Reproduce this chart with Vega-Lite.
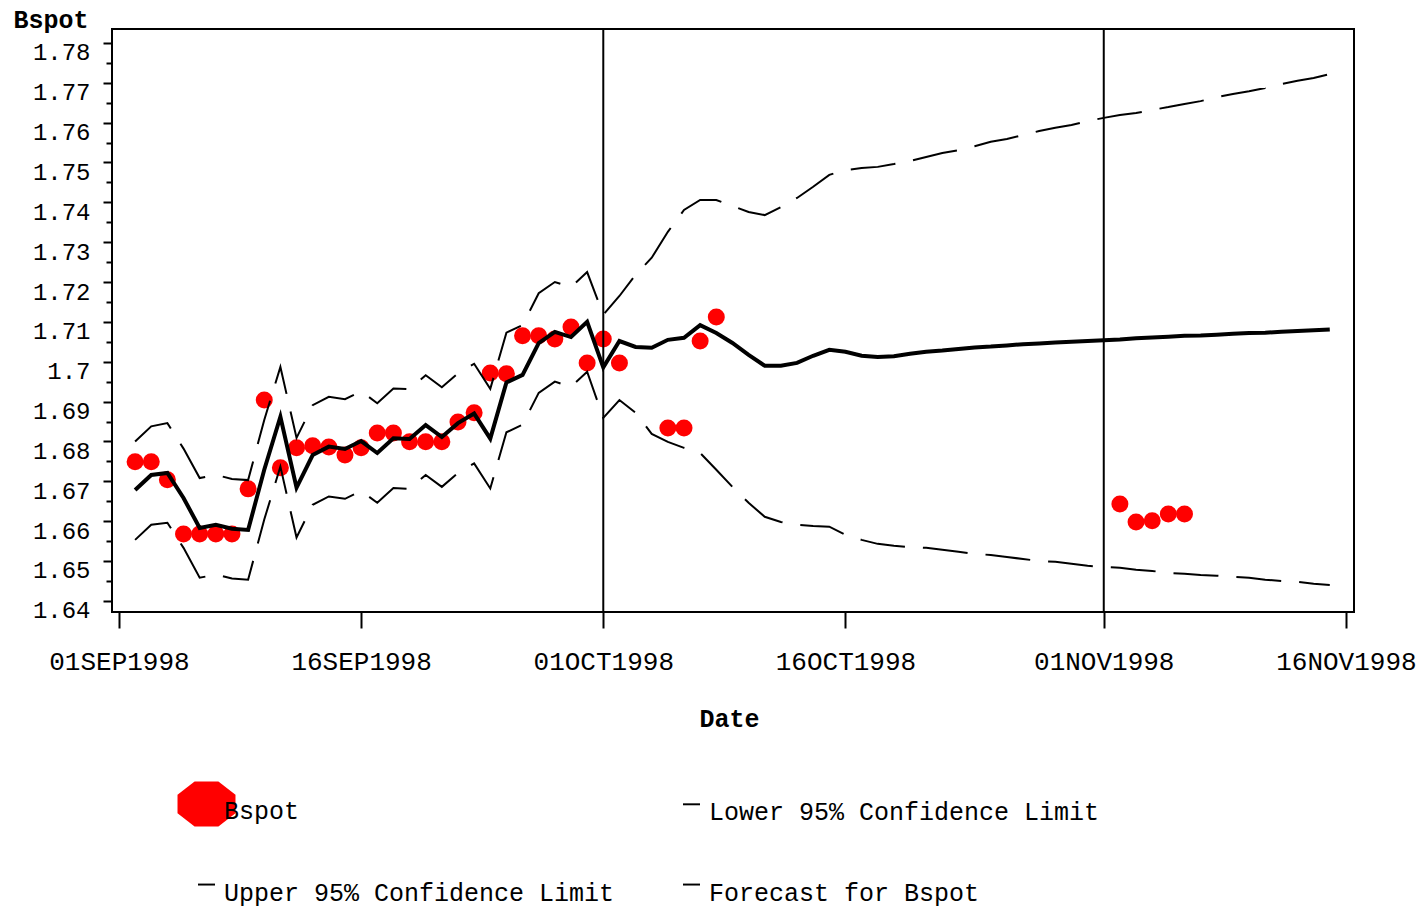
{
  "$schema": "https://vega.github.io/schema/vega-lite/v6.json",
  "width": 1242,
  "height": 583,
  "autosize": "none",
  "padding": {"left": 112, "top": 29, "right": 73, "bottom": 298},
  "background": "white",
  "config": {
    "font": "Liberation Mono",
    "view": {"stroke": "#000000", "strokeWidth": 2}
  },
  "resolve": {"axis": {"y": "independent"}},
  "data": {
    "values": [
      {"date": "1998-09-02", "bspot": 1.6749, "forecast": 1.6678, "l95": 1.6553, "u95": 1.6800},
      {"date": "1998-09-03", "bspot": 1.6749, "forecast": 1.6716, "l95": 1.6591, "u95": 1.6838},
      {"date": "1998-09-04", "bspot": 1.6704, "forecast": 1.6721, "l95": 1.6596, "u95": 1.6846},
      {"date": "1998-09-05", "bspot": 1.6568, "forecast": 1.6658, "l95": 1.6533, "u95": 1.6782},
      {"date": "1998-09-06", "bspot": 1.6568, "forecast": 1.6583, "l95": 1.6458, "u95": 1.6708},
      {"date": "1998-09-07", "bspot": 1.6568, "forecast": 1.6591, "l95": 1.6466, "u95": 1.6716},
      {"date": "1998-09-08", "bspot": 1.6568, "forecast": 1.6581, "l95": 1.6456, "u95": 1.6706},
      {"date": "1998-09-09", "bspot": 1.6681, "forecast": 1.6578, "l95": 1.6453, "u95": 1.6703},
      {"date": "1998-09-10", "bspot": 1.6904, "forecast": 1.6729, "l95": 1.6604, "u95": 1.6854},
      {"date": "1998-09-11", "bspot": 1.6734, "forecast": 1.6862, "l95": 1.6737, "u95": 1.6987},
      {"date": "1998-09-12", "bspot": 1.6784, "forecast": 1.6684, "l95": 1.6559, "u95": 1.6809},
      {"date": "1998-09-13", "bspot": 1.6789, "forecast": 1.6766, "l95": 1.6641, "u95": 1.6891},
      {"date": "1998-09-14", "bspot": 1.6786, "forecast": 1.6787, "l95": 1.6662, "u95": 1.6912},
      {"date": "1998-09-15", "bspot": 1.6766, "forecast": 1.6781, "l95": 1.6656, "u95": 1.6906},
      {"date": "1998-09-16", "bspot": 1.6784, "forecast": 1.6801, "l95": 1.6676, "u95": 1.6926},
      {"date": "1998-09-17", "bspot": 1.6821, "forecast": 1.6771, "l95": 1.6646, "u95": 1.6896},
      {"date": "1998-09-18", "bspot": 1.6821, "forecast": 1.6808, "l95": 1.6683, "u95": 1.6933},
      {"date": "1998-09-19", "bspot": 1.6799, "forecast": 1.6806, "l95": 1.6681, "u95": 1.6931},
      {"date": "1998-09-20", "bspot": 1.6799, "forecast": 1.6841, "l95": 1.6716, "u95": 1.6966},
      {"date": "1998-09-21", "bspot": 1.6799, "forecast": 1.6811, "l95": 1.6686, "u95": 1.6936},
      {"date": "1998-09-22", "bspot": 1.6849, "forecast": 1.6846, "l95": 1.6721, "u95": 1.6971},
      {"date": "1998-09-23", "bspot": 1.6872, "forecast": 1.6870, "l95": 1.6745, "u95": 1.6995},
      {"date": "1998-09-24", "bspot": 1.6972, "forecast": 1.6807, "l95": 1.6682, "u95": 1.6932},
      {"date": "1998-09-25", "bspot": 1.6970, "forecast": 1.6948, "l95": 1.6823, "u95": 1.7073},
      {"date": "1998-09-26", "bspot": 1.7065, "forecast": 1.6967, "l95": 1.6842, "u95": 1.7092},
      {"date": "1998-09-27", "bspot": 1.7065, "forecast": 1.7047, "l95": 1.6922, "u95": 1.7172},
      {"date": "1998-09-28", "bspot": 1.7057, "forecast": 1.7075, "l95": 1.6950, "u95": 1.7200},
      {"date": "1998-09-29", "bspot": 1.7087, "forecast": 1.7062, "l95": 1.6937, "u95": 1.7187},
      {"date": "1998-09-30", "bspot": 1.6997, "forecast": 1.7100, "l95": 1.6975, "u95": 1.7225},
      {"date": "1998-10-01", "bspot": 1.7057, "forecast": 1.6986, "l95": 1.6859, "u95": 1.7118},
      {"date": "1998-10-02", "bspot": 1.6997, "forecast": 1.7052, "l95": 1.6904, "u95": 1.7165},
      {"date": "1998-10-03", "forecast": 1.7037, "l95": 1.6872, "u95": 1.7218},
      {"date": "1998-10-04", "forecast": 1.7035, "l95": 1.6819, "u95": 1.7261},
      {"date": "1998-10-05", "bspot": 1.6834, "forecast": 1.7055, "l95": 1.6799, "u95": 1.7326},
      {"date": "1998-10-06", "bspot": 1.6834, "forecast": 1.7060, "l95": 1.6784, "u95": 1.7381},
      {"date": "1998-10-07", "bspot": 1.7052, "forecast": 1.7092, "l95": 1.6771, "u95": 1.7406},
      {"date": "1998-10-08", "bspot": 1.7112, "forecast": 1.7072, "l95": 1.6729, "u95": 1.7406},
      {"date": "1998-10-09", "forecast": 1.7047, "l95": 1.6686, "u95": 1.7391},
      {"date": "1998-10-10", "forecast": 1.7017, "l95": 1.6646, "u95": 1.7376},
      {"date": "1998-10-11", "forecast": 1.6990, "l95": 1.6611, "u95": 1.7368},
      {"date": "1998-10-12", "forecast": 1.6990, "l95": 1.6598, "u95": 1.7388},
      {"date": "1998-10-13", "forecast": 1.6997, "l95": 1.6591, "u95": 1.7411},
      {"date": "1998-10-14", "forecast": 1.7015, "l95": 1.6588, "u95": 1.7439},
      {"date": "1998-10-15", "forecast": 1.7030, "l95": 1.6586, "u95": 1.7469},
      {"date": "1998-10-16", "forecast": 1.7025, "l95": 1.6566, "u95": 1.7481},
      {"date": "1998-10-17", "forecast": 1.7015, "l95": 1.6553, "u95": 1.7486},
      {"date": "1998-10-18", "forecast": 1.7012, "l95": 1.6543, "u95": 1.7489},
      {"date": "1998-10-19", "forecast": 1.7014, "l95": 1.6538, "u95": 1.7496},
      {"date": "1998-10-20", "forecast": 1.7020, "l95": 1.6535, "u95": 1.7504},
      {"date": "1998-10-21", "forecast": 1.7025, "l95": 1.6533, "u95": 1.7514},
      {"date": "1998-10-22", "forecast": 1.7028, "l95": 1.6528, "u95": 1.7524},
      {"date": "1998-10-23", "forecast": 1.7032, "l95": 1.6523, "u95": 1.7531},
      {"date": "1998-10-24", "forecast": 1.7036, "l95": 1.6518, "u95": 1.7541},
      {"date": "1998-10-25", "forecast": 1.7038, "l95": 1.6515, "u95": 1.7552},
      {"date": "1998-10-26", "forecast": 1.7041, "l95": 1.6510, "u95": 1.7559},
      {"date": "1998-10-27", "forecast": 1.7044, "l95": 1.6505, "u95": 1.7569},
      {"date": "1998-10-28", "forecast": 1.7046, "l95": 1.6500, "u95": 1.7579},
      {"date": "1998-10-29", "forecast": 1.7048, "l95": 1.6498, "u95": 1.7587},
      {"date": "1998-10-30", "forecast": 1.7050, "l95": 1.6493, "u95": 1.7594},
      {"date": "1998-10-31", "forecast": 1.7052, "l95": 1.6488, "u95": 1.7604},
      {"date": "1998-11-01", "forecast": 1.7054, "l95": 1.6485, "u95": 1.7612},
      {"date": "1998-11-02", "bspot": 1.6643, "forecast": 1.7056, "l95": 1.6483, "u95": 1.7619},
      {"date": "1998-11-03", "bspot": 1.6598, "forecast": 1.7059, "l95": 1.6478, "u95": 1.7624},
      {"date": "1998-11-04", "bspot": 1.6601, "forecast": 1.7061, "l95": 1.6475, "u95": 1.7632},
      {"date": "1998-11-05", "bspot": 1.6618, "forecast": 1.7063, "l95": 1.6470, "u95": 1.7639},
      {"date": "1998-11-06", "bspot": 1.6618, "forecast": 1.7065, "l95": 1.6468, "u95": 1.7647},
      {"date": "1998-11-07", "forecast": 1.7066, "l95": 1.6465, "u95": 1.7654},
      {"date": "1998-11-08", "forecast": 1.7068, "l95": 1.6463, "u95": 1.7664},
      {"date": "1998-11-09", "forecast": 1.7070, "l95": 1.6460, "u95": 1.7672},
      {"date": "1998-11-10", "forecast": 1.7072, "l95": 1.6458, "u95": 1.7679},
      {"date": "1998-11-11", "forecast": 1.7073, "l95": 1.6453, "u95": 1.7687},
      {"date": "1998-11-12", "forecast": 1.7075, "l95": 1.6450, "u95": 1.7697},
      {"date": "1998-11-13", "forecast": 1.7077, "l95": 1.6448, "u95": 1.7705},
      {"date": "1998-11-14", "forecast": 1.7079, "l95": 1.6443, "u95": 1.7712},
      {"date": "1998-11-15", "forecast": 1.7081, "l95": 1.6440, "u95": 1.7722}
    ]
  },
  "encoding": {
    "x": {
      "field": "date",
      "type": "temporal",
      "scale": {
        "type": "utc",
        "domain": [
          {"year": 1998, "month": 8, "date": 31, "hours": 13, "minutes": 40, "utc": true},
          {"year": 1998, "month": 11, "date": 16, "hours": 12, "utc": true}
        ]
      },
      "axis": {
        "values": [
          {"year": 1998, "month": 9, "date": 1, "utc": true},
          {"year": 1998, "month": 9, "date": 16, "utc": true},
          {"year": 1998, "month": 10, "date": 1, "utc": true},
          {"year": 1998, "month": 10, "date": 16, "utc": true},
          {"year": 1998, "month": 11, "date": 1, "utc": true},
          {"year": 1998, "month": 11, "date": 16, "utc": true}
        ],
        "labelExpr": "utcFormat(datum.value, '%d') + upper(utcFormat(datum.value, '%b')) + utcFormat(datum.value, '%Y')",
        "domain": false,
        "grid": false,
        "tickSize": 16,
        "tickWidth": 2,
        "tickColor": "#000000",
        "labelPadding": 20,
        "labelFont": "Liberation Mono",
        "labelFontSize": 26,
        "labelColor": "#000000",
        "labelFlush": false,
        "labelOverlap": false,
        "title": "Date",
        "titleFont": "Liberation Mono",
        "titleFontSize": 25,
        "titleFontWeight": "bold",
        "titleColor": "#000000",
        "titleX": 617,
        "titleY": 114,
        "titleBaseline": "alphabetic",
        "titleAlign": "center"
      }
    }
  },
  "layer": [
    {
      "description": "Key only: the series key is built from these scales; the filter leaves no rows to draw.",
      "transform": [{"filter": "datum.bspot > 2"}],
      "mark": {"type": "point", "filled": true, "opacity": 1},
      "encoding": {
        "y": {"field": "bspot", "type": "quantitative", "scale": {"domain": [1.6372, 1.7835], "nice": false, "zero": false}, "axis": null},
        "color": {
          "datum": "Bspot",
          "type": "nominal",
          "scale": {
            "domain": ["Bspot", "Lower 95% Confidence Limit", "Upper 95% Confidence Limit", "Forecast for Bspot"],
            "range": ["#ff0000", "#000000", "#000000", "#000000"]
          },
          "legend": {
            "title": null, "orient": "none", "legendX": 82, "legendY": 769, "direction": "horizontal", "columns": 2,
            "symbolSize": 289,
            "labelFont": "Liberation Mono", "labelFontSize": 25, "labelColor": "#000000", "labelOffset": 5, "labelLimit": 1000,
            "columnPadding": 64, "rowPadding": 53, "symbolOpacity": 1, "symbolStrokeWidth": 0
          }
        },
        "shape": {
          "datum": "Bspot",
          "type": "nominal",
          "scale": {
            "domain": ["Bspot", "Lower 95% Confidence Limit", "Upper 95% Confidence Limit", "Forecast for Bspot"],
            "range": [
              "M-1.4,-3.47L1.4,-3.47L3.41,-1.91L3.41,0.27L1.4,1.83L-1.4,1.83L-3.41,0.27L-3.41,-1.91Z",
              "M-1,-1.05L1,-1.05L1,-0.82L-1,-0.82Z",
              "M-1,-1.05L1,-1.05L1,-0.82L-1,-0.82Z",
              "M-1,-1.05L1,-1.05L1,-0.82L-1,-0.82Z"
            ]
          },
          "legend": {
            "title": null, "orient": "none", "legendX": 82, "legendY": 769, "direction": "horizontal", "columns": 2,
            "symbolSize": 289,
            "labelFont": "Liberation Mono", "labelFontSize": 25, "labelColor": "#000000", "labelOffset": 5, "labelLimit": 1000,
            "columnPadding": 64, "rowPadding": 53, "symbolOpacity": 1, "symbolStrokeWidth": 0
          }
        }
      }
    },
    {
      "transform": [{"filter": "isValid(datum.bspot)"}],
      "mark": {"type": "point", "filled": true, "shape": "circle", "size": 289, "opacity": 1},
      "encoding": {
        "y": {
          "field": "bspot",
          "type": "quantitative",
          "scale": {"domain": [1.6372, 1.7835], "nice": false, "zero": false},
          "axis": {
            "orient": "left",
            "values": [1.64, 1.65, 1.66, 1.67, 1.68, 1.69, 1.7, 1.71, 1.72, 1.73, 1.74, 1.75, 1.76, 1.77, 1.78],
            "format": ".2~f",
            "domain": false,
            "grid": false,
            "tickSize": 9,
            "tickWidth": 2,
            "tickColor": "#000000",
            "labelPadding": 13,
            "labelBaseline": "top",
            "labelOffset": -2,
            "labelFont": "Liberation Mono",
            "labelFontSize": 24,
            "labelColor": "#000000",
            "labelFlush": false,
            "labelOverlap": false,
            "title": "Bspot",
            "titleFont": "Liberation Mono",
            "titleFontSize": 25,
            "titleFontWeight": "bold",
            "titleColor": "#000000",
            "titleAngle": 0,
            "titleAlign": "left",
            "titleBaseline": "alphabetic",
            "titleX": -99,
            "titleY": -2
          }
        },
        "color": {"datum": "Bspot", "type": "nominal", "legend": null}
      }
    },
    {
      "mark": {"type": "line", "color": "#000000", "strokeWidth": 2, "strokeDash": [45, 18]},
      "encoding": {
        "y": {"field": "u95", "type": "quantitative", "scale": {"domain": [1.6372, 1.7835], "nice": false, "zero": false}, "axis": null}
      }
    },
    {
      "mark": {"type": "line", "color": "#000000", "strokeWidth": 2, "strokeDash": [45, 18]},
      "encoding": {
        "y": {"field": "l95", "type": "quantitative", "scale": {"domain": [1.6372, 1.7835], "nice": false, "zero": false}, "axis": null}
      }
    },
    {
      "mark": {"type": "line", "color": "#000000", "strokeWidth": 4},
      "encoding": {
        "y": {
          "field": "forecast",
          "type": "quantitative",
          "scale": {"domain": [1.6372, 1.7835], "nice": false, "zero": false},
          "axis": {
            "orient": "left",
            "values": [1.645, 1.655, 1.665, 1.675, 1.685, 1.695, 1.705, 1.715, 1.725, 1.735, 1.745, 1.755, 1.765, 1.775],
            "labels": false,
            "domain": false,
            "grid": false,
            "tickSize": 6,
            "tickWidth": 2,
            "tickColor": "#000000",
            "title": null
          }
        }
      }
    },
    {
      "data": {"values": [{"ref": "1998-10-01"}, {"ref": "1998-11-01"}]},
      "mark": {"type": "rule", "color": "#000000", "strokeWidth": 2},
      "encoding": {
        "x": {"field": "ref", "type": "temporal"}
      }
    }
  ]
}
